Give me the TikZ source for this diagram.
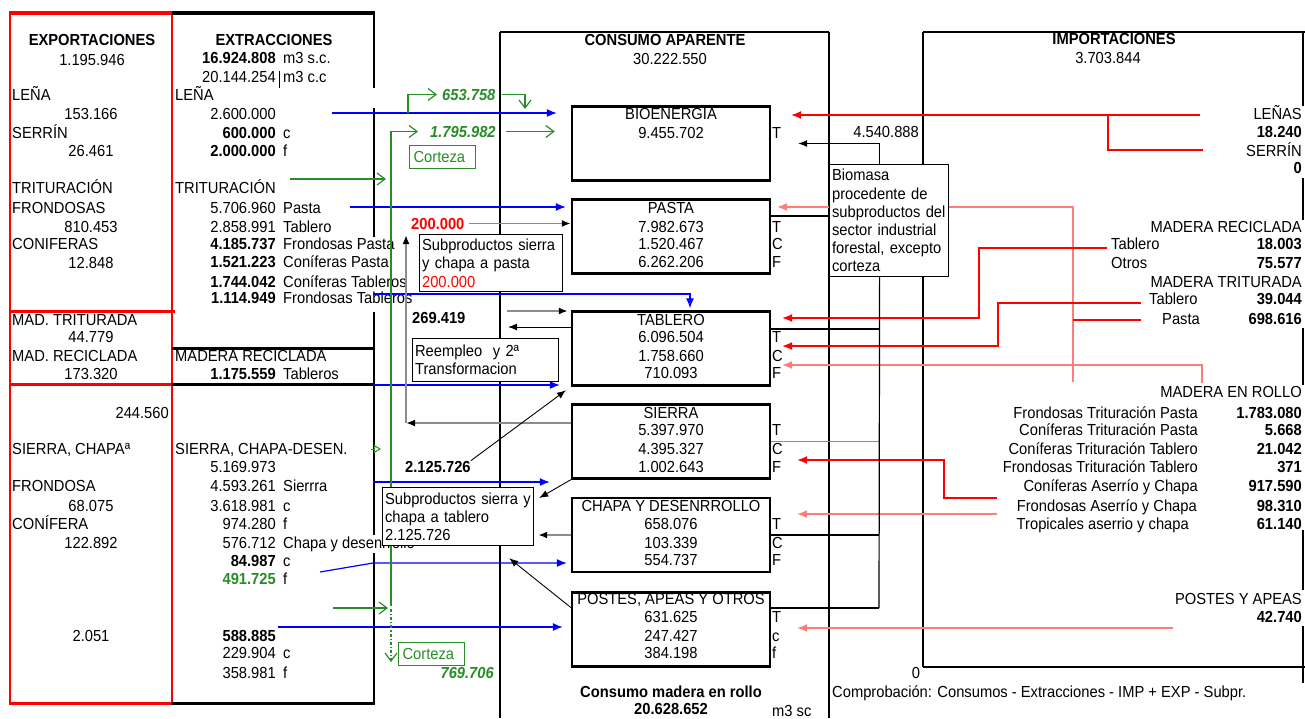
\documentclass[tikz,border=0pt]{standalone}
\usepackage{fontspec}
\setmainfont{Liberation Sans}[FakeStretch=0.92]
\usetikzlibrary{arrows.meta}
\definecolor{verde}{RGB}{40,140,40}
\definecolor{rosa}{RGB}{255,125,125}
\definecolor{gris}{RGB}{140,140,140}
\tikzset{
  tc/.style={inner sep=0pt, anchor=base},
  tl/.style={inner sep=0pt, anchor=base west},
  tr/.style={inner sep=0pt, anchor=base east},
  caja/.style={draw, line width=2.4pt, minimum width=198pt, minimum height=74pt, inner sep=0pt},
  nota/.style={draw, line width=1.2pt, fill=white, align=left, inner xsep=2.5pt, inner ysep=2pt, anchor=north west},
  corteza/.style={draw=verde, line width=1.2pt, text=verde, align=left, inner xsep=4pt, inner ysep=0pt, text width=58pt, minimum height=23pt, anchor=north west},
  azul/.style={blue, line width=1.2pt, -{Latex[length=10pt,width=8pt]}},
  flverde/.style={verde, line width=1.2pt, -{Straight Barb[length=8pt,width=12pt]}},
  rojo/.style={red, line width=1.2pt, -{Latex[length=10pt,width=8pt]}},
  rosado/.style={rosa, line width=1.2pt, -{Latex[length=10pt,width=8pt]}},
  grisarr/.style={gris, line width=1.8pt, -{Latex[length=9pt,width=7pt,color=black]}},
  negro/.style={black, line width=0.9pt, -{Latex[length=9pt,width=7pt]}},
}
\begin{document}
\begin{tikzpicture}[x=1pt, y=-1pt, font=\fontsize{16}{18.2}\selectfont]
    \useasboundingbox (0,0) rectangle (1305,718);

    % marcos
    \draw[red, line width=3.5pt] (9,13) -- (172,13);
    \draw[red, line width=1.8pt] (10,13) -- (10,703) (172,13) -- (172,703);
    \draw[red, line width=3pt] (10,311) -- (175,311) (10,384) -- (172,384) (9,703) -- (172,703);
    \draw[line width=3.5pt] (172,13) -- (375,13);
    \draw[line width=1.8pt] (374,13) -- (374,88) (374,108) -- (374,237) (374,312) -- (374,535) (374,553) -- (374,703);
    \draw[line width=3pt] (172,348) -- (374,348) (172,384) -- (374,384) (172,703) -- (375,703);
    \draw[line width=1pt] (279,71) -- (279,88);
    \draw[line width=2.5pt] (500,32) -- (829,32);
    \draw[line width=1.4pt] (500,32) -- (500,718) (829,32) -- (829,718);
    \draw[line width=2.5pt] (923,32) -- (1305,32) (923,667) -- (1305,667);
    \draw[line width=1.4pt] (923,32) -- (923,667);
    \draw[line width=1.8pt] (1303,32) -- (1303,106) (1303,178) -- (1303,220) (1303,328) -- (1303,385) (1303,530) -- (1303,590) (1303,626) -- (1303,683);

    % exportaciones
    \node[tc] (exph) at (92,45) {\bfseries EXPORTACIONES};
    \node[tc] (expv) at (92,65) {1.195.946};
    \node[tl] (expl) at (12,100) {LEÑA};
    \node[tc] (explv) at (91,119) {153.166};
    \node[tl] (exps) at (12,138) {SERRÍN};
    \node[tc] (expsv) at (91,156) {26.461};
    \node[tl] (expt) at (12,193) {TRITURACIÓN};
    \node[tl] (exptf) at (12,213) {FRONDOSAS};
    \node[tc] (exptfv) at (91,232) {810.453};
    \node[tl] (exptc) at (12,249) {CONIFERAS};
    \node[tc] (exptcv) at (91,268) {12.848};
    \node[tl] (expmt) at (12,325) {MAD. TRITURADA};
    \node[tc] (expmtv) at (91,342) {44.779};
    \node[tl] (expmr) at (12,361) {MAD. RECICLADA};
    \node[tc] (expmrv) at (91,379) {173.320};
    \node[tr] (exprv) at (169,418) {244.560};
    \node[tl] (expsc) at (12,454) {SIERRA, CHAPAª};
    \node[tl] (expf) at (12,491) {FRONDOSA};
    \node[tc] (expfv) at (91,511) {68.075};
    \node[tl] (expc) at (12,529) {CONÍFERA};
    \node[tc] (expcv) at (91,548) {122.892};
    \node[tc] (exppv) at (91,641) {2.051};

    % extracciones
    \node[tc] (exth) at (274,45) {\bfseries EXTRACCIONES};
    \node[tr] (ext1) at (276,63) {\bfseries 16.924.808};
    \node[tl] (ext1u) at (283,63) {m3 s.c.};
    \node[tr] (ext2) at (276,82) {20.144.254};
    \node[tl] (ext2u) at (283,82) {m3 c.c};
    \node[tl] (extl) at (175,100) {LEÑA};
    \node[tr] (ext3) at (276,119) {2.600.000};
    \node[tr] (ext4) at (276,138) {\bfseries 600.000};
    \node[tl] (ext4u) at (283,138) {c};
    \node[tr] (ext5) at (276,156) {\bfseries 2.000.000};
    \node[tl] (ext5u) at (283,156) {f};
    \node[tl] (extt) at (175,193) {TRITURACIÓN};
    \node[tr] (ext6) at (276,213) {5.706.960};
    \node[tl] (ext6u) at (283,213) {Pasta};
    \node[tr] (ext7) at (276,232) {2.858.991};
    \node[tl] (ext7u) at (283,232) {Tablero};
    \node[tr] (ext8) at (276,249) {\bfseries 4.185.737};
    \node[tl] (ext8u) at (283,249) {Frondosas Pasta};
    \node[tr] (ext9) at (276,267) {\bfseries 1.521.223};
    \node[tl] (ext9u) at (283,267) {Coníferas Pasta};
    \node[tr] (ext10) at (276,287) {\bfseries 1.744.042};
    \node[tl] (ext10u) at (283,287) {Coníferas Tableros};
    \node[tr] (ext11) at (276,303) {\bfseries 1.114.949};
    \node[tl] (ext11u) at (283,303) {Frondosas Tableros};
    \node[tl] (extmr) at (175,361) {MADERA RECICLADA};
    \node[tr] (ext12) at (276,379) {\bfseries 1.175.559};
    \node[tl] (ext12u) at (283,379) {Tableros};
    \node[tl] (extsc) at (175,454) {SIERRA, CHAPA-DESEN.};
    \node[tr] (ext13) at (276,472) {5.169.973};
    \node[tr] (ext14) at (276,491) {4.593.261};
    \node[tl] (ext14u) at (283,491) {Sierrra};
    \node[tr] (ext15) at (276,511) {3.618.981};
    \node[tl] (ext15u) at (283,511) {c};
    \node[tr] (ext16) at (276,529) {974.280};
    \node[tl] (ext16u) at (283,529) {f};
    \node[tr] (ext17) at (276,548) {576.712};
    \node[tl] (ext17u) at (283,548) {Chapa y desenrrollo};
    \node[tr] (ext18) at (276,566) {\bfseries 84.987};
    \node[tl] (ext18u) at (283,566) {c};
    \node[tr, text=verde] (ext19) at (276,584) {\bfseries 491.725};
    \node[tl] (ext19u) at (283,584) {f};
    \node[tr] (ext20) at (276,641) {\bfseries 588.885};
    \node[tr] (ext21) at (276,658) {229.904};
    \node[tl] (ext21u) at (283,658) {c};
    \node[tr] (ext22) at (276,678) {358.981};
    \node[tl] (ext22u) at (283,678) {f};

    % consumo aparente
    \node[tc] (conh) at (665,45) {\bfseries CONSUMO APARENTE};
    \node[tc] (conv) at (670,64) {30.222.550};

    \node[caja] (bio) at (671,143.5) {};
    \node[tc] (bioh) at (671,119) {BIOENERGIA};
    \node[tc] (biov) at (671,138) {9.455.702};
    \node[tl] (biot) at (772,138) {T};

    \node[caja] (pasta) at (671,236.5) {};
    \node[tc] (pash) at (671,213) {PASTA};
    \node[tc] (pasv1) at (671,232) {7.982.673};
    \node[tc] (pasv2) at (671,249) {1.520.467};
    \node[tc] (pasv3) at (671,267) {6.262.206};
    \node[tl] (past) at (772,232) {T};
    \node[tl] (pasc) at (772,249) {C};
    \node[tl] (pasf) at (772,267) {F};

    \node[caja] (tablero) at (671,348.5) {};
    \node[tc] (tabh) at (671,325) {TABLERO};
    \node[tc] (tabv1) at (671,342) {6.096.504};
    \node[tc] (tabv2) at (671,361) {1.758.660};
    \node[tc] (tabv3) at (671,378) {710.093};
    \node[tl] (tabt) at (772,342) {T};
    \node[tl] (tabc) at (772,361) {C};
    \node[tl] (tabf) at (772,378) {F};

    \node[caja] (sierra) at (671,441.5) {};
    \node[tc] (sieh) at (671,418) {SIERRA};
    \node[tc] (siev1) at (671,435) {5.397.970};
    \node[tc] (siev2) at (671,454) {4.395.327};
    \node[tc] (siev3) at (671,472) {1.002.643};
    \node[tl] (siet) at (772,435) {T};
    \node[tl] (siec) at (772,454) {C};
    \node[tl] (sief) at (772,472) {F};

    \node[caja] (chapa) at (671,535) {};
    \node[tc] (chah) at (671,511) {CHAPA Y DESENRROLLO};
    \node[tc] (chav1) at (671,529) {658.076};
    \node[tc] (chav2) at (671,548) {103.339};
    \node[tc] (chav3) at (671,565) {554.737};
    \node[tl] (chat) at (772,529) {T};
    \node[tl] (chac) at (772,548) {C};
    \node[tl] (chaf) at (772,565) {F};

    \node[caja] (postes) at (671,629.5) {};
    \node[tc] (posh) at (671,604) {POSTES, APEAS Y OTROS};
    \node[tc] (posv1) at (671,622) {631.625};
    \node[tc] (posv2) at (671,641) {247.427};
    \node[tc] (posv3) at (671,658) {384.198};
    \node[tl] (post) at (772,622) {T};
    \node[tl] (posc) at (772,641) {c};
    \node[tl] (posf) at (772,658) {f};

    \node[tc] (conrh) at (671,697) {\bfseries Consumo madera en rollo};
    \node[tc] (conrv) at (671,714) {\bfseries 20.628.652};
    \node[tl] (conru) at (772,716) {m3 sc};

    % importaciones
    \node[tc] (imph) at (1114,44) {\bfseries IMPORTACIONES};
    \node[tc] (impv) at (1108,63) {3.703.844};
    \node[tr] (impl) at (1302,119) {LEÑAS};
    \node[tr] (implv) at (1302,137) {\bfseries 18.240};
    \node[tr] (imps) at (1302,156) {SERRÍN};
    \node[tr] (impsv) at (1302,173) {\bfseries 0};
    \node[tr] (impmr) at (1302,232) {MADERA RECICLADA};
    \node[tl] (impmr1) at (1111,249) {Tablero};
    \node[tr] (impmr1v) at (1302,249) {\bfseries 18.003};
    \node[tl] (impmr2) at (1111,268) {Otros};
    \node[tr] (impmr2v) at (1302,268) {\bfseries 75.577};
    \node[tr] (impmt) at (1302,287) {MADERA TRITURADA};
    \node[tl] (impmt1) at (1149,304) {Tablero};
    \node[tr] (impmt1v) at (1302,304) {\bfseries 39.044};
    \node[tl] (impmt2) at (1162,324) {Pasta};
    \node[tr] (impmt2v) at (1302,324) {\bfseries 698.616};
    \node[tr] (impro) at (1302,397) {MADERA EN ROLLO};
    \node[tr] (impr1) at (1198,418) {Frondosas Trituración Pasta};
    \node[tr] (impr1v) at (1302,418) {\bfseries 1.783.080};
    \node[tr] (impr2) at (1198,435) {Coníferas Trituración Pasta};
    \node[tr] (impr2v) at (1302,435) {\bfseries 5.668};
    \node[tr] (impr3) at (1198,454) {Coníferas Trituración Tablero};
    \node[tr] (impr3v) at (1302,454) {\bfseries 21.042};
    \node[tr] (impr4) at (1198,472) {Frondosas Trituración Tablero};
    \node[tr] (impr4v) at (1302,472) {\bfseries 371};
    \node[tr] (impr5) at (1198,491) {Coníferas Aserrío y Chapa};
    \node[tr] (impr5v) at (1302,491) {\bfseries 917.590};
    \node[tr] (impr6) at (1197,511) {Frondosas Aserrío y Chapa};
    \node[tr] (impr6v) at (1302,511) {\bfseries 98.310};
    \node[tr] (impr7) at (1189,529) {Tropicales aserrio y chapa};
    \node[tr] (impr7v) at (1302,529) {\bfseries 61.140};
    \node[tr] (imppa) at (1302,604) {POSTES Y APEAS};
    \node[tr] (imppav) at (1302,622) {\bfseries 42.740};

    \node[tr] (bmv) at (919,137) {4.540.888};
    \node[tc] (chk0) at (916,678) {0};
    \node[tl] (chk) at (832,697) {Comprobación: Consumos - Extracciones - IMP + EXP - Subpr.};

    % cifras sueltas
    \node[tl, text=verde] (g653) at (442,100) {\bfseries\itshape 653.758};
    \node[tl, text=verde] (g1795) at (430,137) {\bfseries\itshape 1.795.982};
    \node[tr, text=verde] (g769) at (494,678) {\bfseries\itshape 769.706};
    \node[tl, text=red] (r200) at (411,229) {\bfseries 200.000};
    \node[tl] (v269) at (412,323) {\bfseries 269.419};
    \node[tl] (v2125) at (405,472) {\bfseries 2.125.726};

    % flechas azules
    \coordinate (blena) at (332,113);
    \coordinate (bpasta) at (350,207);
    \coordinate (btab) at (373,294);
    \coordinate (brec) at (373,385);
    \coordinate (bsie) at (373,482);
    \coordinate (bcha) at (320,572);
    \coordinate (bcha2) at (373,563);
    \coordinate (bpos) at (278,627);
    \draw[azul, shorten >=14pt] (blena) -- (blena -| bio.west);
    \draw[azul, shorten >=5pt] (bpasta) -- (bpasta -| pasta.west);
    \draw[azul, shorten >=2pt] (btab) -| ([xshift=19pt]tablero.north);
    \draw[azul, shorten >=11pt] (brec) -- (brec -| tablero.west);
    \draw[azul, shorten >=21pt] (bsie) -- (bsie -| sierra.west);
    \draw[azul, shorten >=4pt] (bcha) -- (bcha2) -- (bcha2 -| chapa.west);
    \draw[azul, shorten >=8pt] (bpos) -- (bpos -| postes.west);

    % flechas verdes
    \coordinate (gb) at (408,113);
    \coordinate (gd) at (525,109);
    \coordinate (gvbot) at (391,606);
    \coordinate (gtri) at (290,179);
    \coordinate (gsc) at (371,449);
    \coordinate (gsc2) at (381,449);
    \coordinate (gchp) at (333,608);
    \coordinate (gcort) at (391,662);
    \draw[flverde, shorten >=5pt] (gb) |- (g653.west);
    \draw[flverde] ([xshift=6pt]g653.east) -| (gd);
    \draw[verde, line width=1.8pt] (gvbot) -- (gvbot |- g1795.west);
    \draw[flverde, shorten >=12pt] (gvbot) |- (g1795.west);
    \draw[flverde, shorten >=16pt] ([xshift=10pt]g1795.east) -- (g1795.east -| bio.west);
    \draw[flverde, shorten >=5pt] (gtri) -- (gtri -| gvbot);
    \draw[verde, line width=1pt, -{Triangle[open, length=7pt, width=8pt]}] (gsc) -- (gsc2);
    \draw[flverde, shorten >=3pt] (gchp) -- (gchp -| gvbot);
    \draw[flverde, dash dot] ([yshift=-3pt]gvbot) -- (gcort);

    % flechas grises y negras
    \coordinate (gyc) at (406,423);
    \coordinate (gytop) at (406,235);
    \coordinate (gyt) at (507,311);
    \coordinate (kt) at (508,327);
    \draw[grisarr] ([xshift=4pt]r200.east) -- (r200.east -| pasta.west);
    \draw[grisarr] (gyc) -- (gytop);
    \draw[grisarr] (sierra.west |- gyc) -- (gyc);
    \draw[grisarr, shorten >=3pt] (gyt) -- (gyt -| tablero.west);
    \draw[negro] (kt -| tablero.west) -- (kt);
    \draw[negro, shorten >=6pt] (v2125.north east) -- (tablero.south west);

    % lado derecho
    \coordinate (trk) at (879,608);
    \coordinate (rlena) at (1200,115);
    \coordinate (rserr) at (1203,150);
    \coordinate (rj1) at (1108,115);
    \coordinate (rpj) at (1073,382);
    \coordinate (rtp) at (1141,320);
    \coordinate (rtr) at (1107,248);
    \coordinate (rk1) at (979,318);
    \coordinate (rtt) at (1141,303);
    \coordinate (rk2) at (998,346);
    \coordinate (rro) at (1202,383);
    \coordinate (rca) at (997,498);
    \coordinate (rk3) at (944,460);
    \coordinate (rfa) at (997,514);
    \coordinate (rpa) at (1173,628);
    \draw[rojo, shorten >=20pt] (rlena) -- (rlena -| bio.east);
    \draw[red, line width=1.2pt] (rserr) -| (rj1);
    \draw[rosado, shorten >=6pt] (rpj) |- ([yshift=29.5pt]pasta.east);
    \draw[red, line width=1.2pt] (rtp) -- (rtp -| rpj);
    \draw[rojo, shorten >=11pt] (rtr) -| (rk1) -- (rk1 -| tablero.east);
    \draw[rojo, shorten >=11pt] (rtt) -| (rk2) -- (rk2 -| tablero.east);
    \draw[rosado, shorten >=11pt] (rro) |- ([yshift=-16.5pt]tablero.east);
    \draw[rojo, shorten >=26pt] (rca) -| (rk3) -- (rk3 -| sierra.east);
    \draw[rosado, shorten >=26pt] (rfa) -- (rfa -| chapa.east);
    \draw[rosado, shorten >=26pt] (rpa) -- (rpa -| postes.east);

    \draw[line width=1.2pt] ([yshift=20.5pt]pasta.east) -- (829,216);
    \draw[line width=1.2pt] ([yshift=19.5pt]tablero.east) -- ([yshift=19.5pt]tablero.east -| trk);
    \draw[gris, line width=1.5pt] (sierra.east) -- (sierra.east -| trk);
    \draw[line width=1.2pt] (chapa.east) -- (chapa.east -| trk);
    \draw[line width=1.2pt] ([yshift=21.5pt]postes.east) -- (trk);

    % cajas de texto
    \node[nota, text width=114pt, minimum height=112pt] (biom) at (829,164)
        {Biomasa\\procedente de\\subproductos del\\sector industrial\\forestal, excepto\\corteza};
    \draw[negro] ([xshift=-9.5pt]biom.north) |- ([xshift=27pt]bio.east);
    \draw[line width=1.2pt] ([xshift=-9.5pt]biom.south) -- (trk);

    \node[nota, text width=138pt, minimum height=57pt] (subpasta) at (419,234)
        {Subproductos sierra\\y chapa a pasta\\\textcolor{red}{200.000}};
    \node[nota, text width=141pt, minimum height=43pt] (reemp) at (412,338)
        {Reempleo\ \ y 2ª\\Transformacion};
    \node[nota, text width=146pt, minimum height=58pt] (subtab) at (382,487)
        {Subproductos sierra y\\chapa a tablero\\2.125.726};
    \draw[negro] (sierra.south west) -- ([xshift=5pt,yshift=-11pt]subtab.north east);
    \draw[grisarr, shorten >=4pt] (chapa.west) -- (chapa.west -| subtab.east);
    \draw[negro] ([yshift=22pt]postes.west) -- ([xshift=-25pt,yshift=-12pt]subtab.south east);

    \node[corteza] (cort1) at (409,145) {Corteza};
    \node[corteza] (cort2) at (398,642) {Corteza};
\end{tikzpicture}
\end{document}
